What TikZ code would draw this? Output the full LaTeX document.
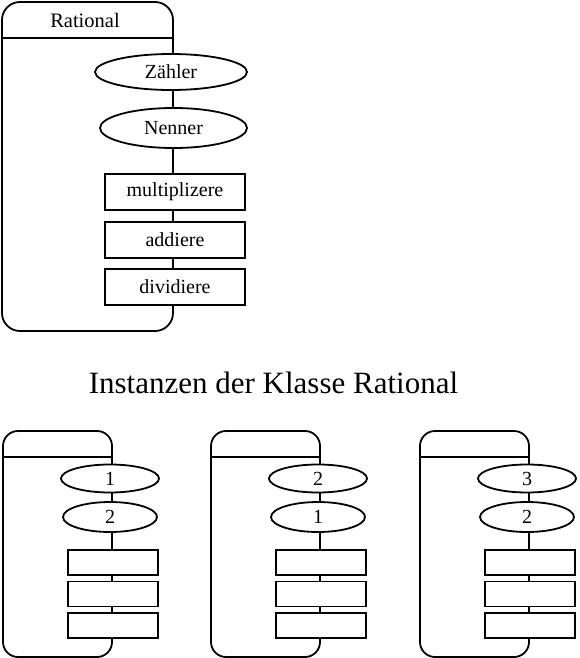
\documentclass[tikz,border=0pt]{standalone}
\usepackage{fontspec}
\setmainfont{Liberation Serif}
\usetikzlibrary{shapes.geometric, positioning}

\begin{document}
\begin{tikzpicture}[
  x=1pt, y=-1pt,
  classbox/.style={rectangle, draw, line width=1.8pt, rounded corners=18pt,
    minimum width=171pt, minimum height=329pt},
  objbox/.style={classbox, rounded corners=15pt, minimum width=109pt, minimum height=226pt},
  attr/.style={ellipse, draw, line width=1.8pt, fill=white, inner sep=0pt,
    font=\fontsize{20}{24}\selectfont},
  method/.style={rectangle, draw, line width=1.8pt, fill=white, inner sep=0pt,
    minimum width=140pt, minimum height=36pt, font=\fontsize{20}{24}\selectfont},
  oattr/.style={attr, minimum width=98pt, minimum height=28pt},
  ometh/.style={method, minimum width=90pt, minimum height=25pt},
  sep/.style={line width=1.8pt}
]
  \useasboundingbox (0,0) rectangle (579,658);

  % Klasse
  \node[classbox] (cls) at (87.5,166.5) {};
  \node[font=\fontsize{20.5}{24}\selectfont] (clsname) at (85,20) {Rational};
  \draw[sep] (cls.west |- 0,38) -- (cls.east |- 0,38);
  \node[attr, minimum width=152pt, minimum height=36pt] (zaehler) at (171,72) {Zähler};
  \node[attr, minimum width=147pt, minimum height=40pt] (nenner) at (173.5,128) {Nenner};
  \node[method] (mult) at (175,192) {multiplizere};
  \node[method] (add) at (175,240) {addiere};
  \node[method] (div) at (175,287) {dividiere};

  \node[font=\fontsize{31}{36}\selectfont, anchor=base] (title) at (273.5,393) {Instanzen der Klasse Rational};

  % Instanz 1
  \node[objbox] (obj1) at (57.5,544) {};
  \draw[sep] (obj1.west |- 0,457) -- (obj1.east |- 0,457);
  \node[oattr] (z1) at (110,478.5) {1};
  \node[oattr, minimum width=94pt, minimum height=30pt] (n1) at (110,517) {2};
  \node[ometh] (m1) at (113,562.5) {};
  \node[ometh] (a1) at (113,594) {};
  \node[ometh] (d1) at (113,625.5) {};

  % Instanz 2
  \node[objbox] (obj2) at (265.5,544) {};
  \draw[sep] (obj2.west |- 0,457) -- (obj2.east |- 0,457);
  \node[oattr] (z2) at (318,478.5) {2};
  \node[oattr, minimum width=94pt, minimum height=30pt] (n2) at (318,517) {1};
  \node[ometh] (m2) at (321,562.5) {};
  \node[ometh] (a2) at (321,594) {};
  \node[ometh] (d2) at (321,625.5) {};

  % Instanz 3
  \node[objbox] (obj3) at (474.5,544) {};
  \draw[sep] (obj3.west |- 0,457) -- (obj3.east |- 0,457);
  \node[oattr] (z3) at (527,478.5) {3};
  \node[oattr, minimum width=94pt, minimum height=30pt] (n3) at (527,517) {2};
  \node[ometh] (m3) at (530,562.5) {};
  \node[ometh] (a3) at (530,594) {};
  \node[ometh] (d3) at (530,625.5) {};
\end{tikzpicture}
\end{document}
